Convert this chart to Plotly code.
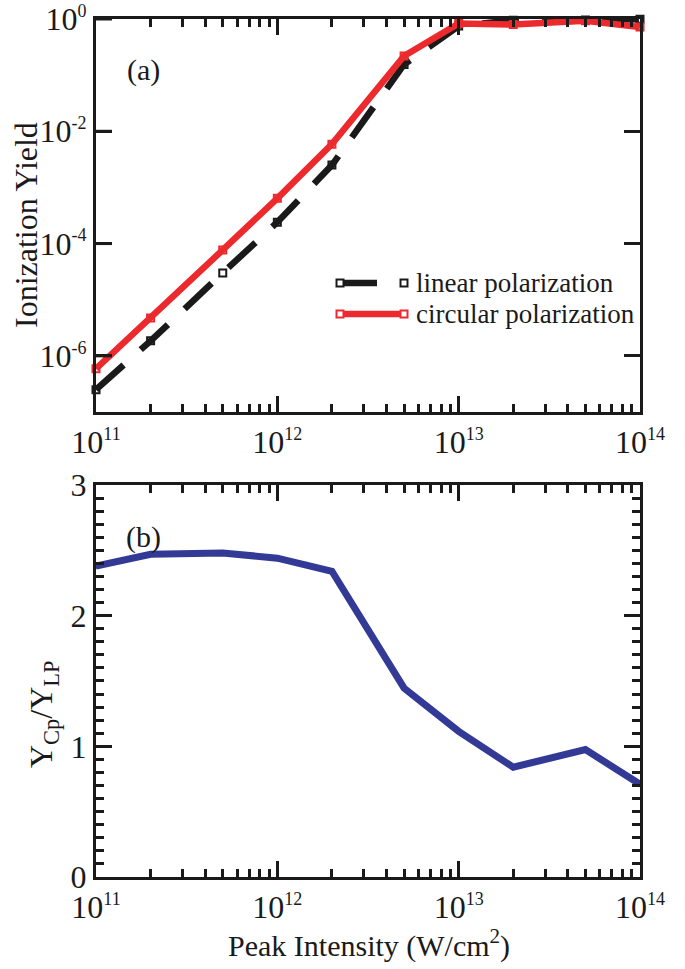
import math
import plotly.graph_objects as go

# ---- data ----
intensity = [1e11, 2e11, 5e11, 1e12, 2e12, 5e12, 1e13, 2e13, 5e13, 1e14]
yield_linear = [2.5e-7, 1.85e-6, 3.0e-5, 2.4e-4, 2.5e-3, 0.155, 0.75, 0.95, 0.96, 0.99]
yield_circular = [5.9e-7, 4.7e-6, 7.7e-5, 6.4e-4, 5.9e-3, 0.22, 0.83, 0.80, 0.93, 0.72]
ratio_cp_lp = [2.38, 2.47, 2.48, 2.44, 2.34, 1.445, 1.115, 0.84, 0.975, 0.71]

x_tickvals = [1e11, 1e12, 1e13, 1e14]
x_exponents = ["11", "12", "13", "14"]
y_tickvals = [1e-6, 1e-4, 1e-2, 1e0]
y_exponents = ["-6", "-4", "-2", "0"]
y_log_range = [-7, 0]

FONT = "Liberation Serif"
INK = "#1a1a1a"
RED = "#ec2a2e"
BLUE = "#333a96"
TICKC = INK

def pow_label(e):
    return "10<sup><span style='font-size:18px'>" + e + "</span></sup>"

x_ticktext = [pow_label(e) for e in x_exponents]
y_ticktext = [pow_label(e) for e in y_exponents]
minor_x = [m * 10 ** e for e in (11, 12, 13) for m in range(2, 10)]

fig = go.Figure()
fig.add_trace(go.Scatter(
    x=intensity, y=yield_linear, mode="lines+markers", name="linear polarization",
    line=dict(color=INK, width=6.5, dash="37px,23px"),
    marker=dict(symbol="square-open", size=7, color=INK, line=dict(width=2)),
    cliponaxis=False, xaxis="x", yaxis="y"))
fig.add_trace(go.Scatter(
    x=intensity, y=yield_circular, mode="lines+markers", name="circular polarization",
    line=dict(color=RED, width=6.5),
    marker=dict(symbol="square-open", size=7, color=RED, line=dict(width=2)),
    cliponaxis=False, xaxis="x", yaxis="y"))
fig.add_trace(go.Scatter(
    x=intensity, y=ratio_cp_lp, mode="lines+markers", name="ratio",
    line=dict(color=BLUE, width=7),
    marker=dict(symbol="diamond", size=5, color=BLUE),
    cliponaxis=False, xaxis="x2", yaxis="y2"))

fig.update_layout(
    width=685, height=969,
    margin=dict(l=96, r=45, t=19, b=92, autoexpand=False),
    paper_bgcolor="white", plot_bgcolor="rgba(0,0,0,0)",
    showlegend=False,
    font=dict(family=FONT, color=INK),
    xaxis=dict(domain=[0, 1], anchor="y"),
    yaxis=dict(domain=[0.54196, 1], anchor="x"),
    xaxis2=dict(domain=[0, 1], anchor="y2"),
    yaxis2=dict(domain=[0, 0.45688], anchor="x2"),
)

fig.update_xaxes(showline=True, linecolor=INK, linewidth=3, mirror="allticks",
                 ticks="inside", ticklen=16, tickwidth=3, tickcolor=TICKC,
                 layer="above traces", ticklabeloverflow="allow",
                 showgrid=False, zeroline=False, automargin=False,
                 type="log", range=[11, 14], tickmode="array",
                 tickvals=x_tickvals, ticktext=x_ticktext,
                 tickfont=dict(family=FONT, size=32, color=INK))
fig.update_xaxes(minor=dict(ticks="inside", ticklen=8, tickwidth=3, tickcolor=TICKC,
                            tickmode="array", tickvals=minor_x, showgrid=False))
fig.update_yaxes(showline=True, linecolor=INK, linewidth=3, mirror="allticks",
                 ticks="inside", ticklen=16, tickwidth=3, tickcolor=TICKC,
                 layer="above traces", ticklabeloverflow="allow",
                 showgrid=False, zeroline=False, automargin=False)

fig.update_layout(
    yaxis=dict(type="log", range=y_log_range,
               tickmode="array", tickvals=y_tickvals, ticktext=y_ticktext,
               tickfont=dict(family=FONT, size=32, color=INK)),
    yaxis2=dict(range=[0, 3], dtick=1, tick0=0, tickmode="linear",
                tickfont=dict(family=FONT, size=32, color=INK),
                minor=dict(ticks="inside", ticklen=8, tickwidth=3, tickcolor=TICKC, dtick=0.1, showgrid=False)),
)

# left-side ticks of panel (a), drawn explicitly at the axis tick values
for v in y_tickvals:
    frac = (math.log10(v) - y_log_range[0]) / (y_log_range[1] - y_log_range[0])
    fig.add_shape(type="line", xref="x domain", yref="y domain",
                  x0=0, x1=16 / 544.0, y0=frac, y1=frac,
                  line=dict(color=INK, width=3))

# ---- axis titles placed at the reference positions (paper coords) ----
PW, PH = 544.0, 858.0
def px_x(px):
    return (px - 96) / PW
def px_y(py):
    return (877 - py) / PH

fig.add_annotation(xref="paper", yref="paper", x=px_x(26), y=px_y(225), textangle=-90,
                   xanchor="center", yanchor="middle", showarrow=False,
                   text="Ionization Yield", font=dict(family=FONT, size=32, color=INK))
fig.add_annotation(xref="paper", yref="paper", x=px_x(43), y=px_y(715), textangle=-90,
                   xanchor="center", yanchor="middle", showarrow=False,
                   text="Y<sub>Cp</sub>/Y<sub>LP</sub>", font=dict(family=FONT, size=32, color=INK))
fig.add_annotation(xref="paper", yref="paper", x=px_x(369), y=px_y(943),
                   xanchor="center", yanchor="middle", showarrow=False,
                   text="Peak Intensity (W/cm<sup>2</sup>)", font=dict(family=FONT, size=30, color=INK))

# ---- hand-drawn legend in panel (a) ----
W, H = 544.0, 393.0
def dx(px):
    return (px - 96) / W
def dy(py):
    return (412 - py) / H
rows = [(283, INK, "37px,23px", "linear polarization"),
        (314, RED, "solid", "circular polarization")]
for py, col, dash, label in rows:
    fig.add_shape(type="line", xref="x domain", yref="y domain",
                  x0=dx(340), x1=dx(404), y0=dy(py), y1=dy(py),
                  line=dict(color=col, width=6.5, dash=dash))
    for mx in (340, 404):
        fig.add_shape(type="rect", xref="x domain", yref="y domain",
                      x0=dx(mx - 3.5), x1=dx(mx + 3.5), y0=dy(py + 3.5), y1=dy(py - 3.5),
                      line=dict(color=col, width=2), fillcolor="white")
    fig.add_annotation(xref="x domain", yref="y domain", x=dx(414), y=dy(py),
                       xanchor="left", yanchor="middle", showarrow=False, text=label,
                       font=dict(family=FONT, size=27, color=INK))

fig.add_annotation(xref="x domain", yref="y domain", x=dx(143), y=dy(70),
                   xanchor="center", yanchor="middle",
                   showarrow=False, text="(a)", font=dict(family=FONT, size=30, color=INK))
fig.add_annotation(xref="x2 domain", yref="y2 domain", x=(143 - 96) / W, y=(877 - 537) / 392.0,
                   xanchor="center", yanchor="middle",
                   showarrow=False, text="(b)", font=dict(family=FONT, size=30, color=INK))

fig.write_html("out.html", config={"displayModeBar": False},
               post_script="document.body.style.margin='0';")
